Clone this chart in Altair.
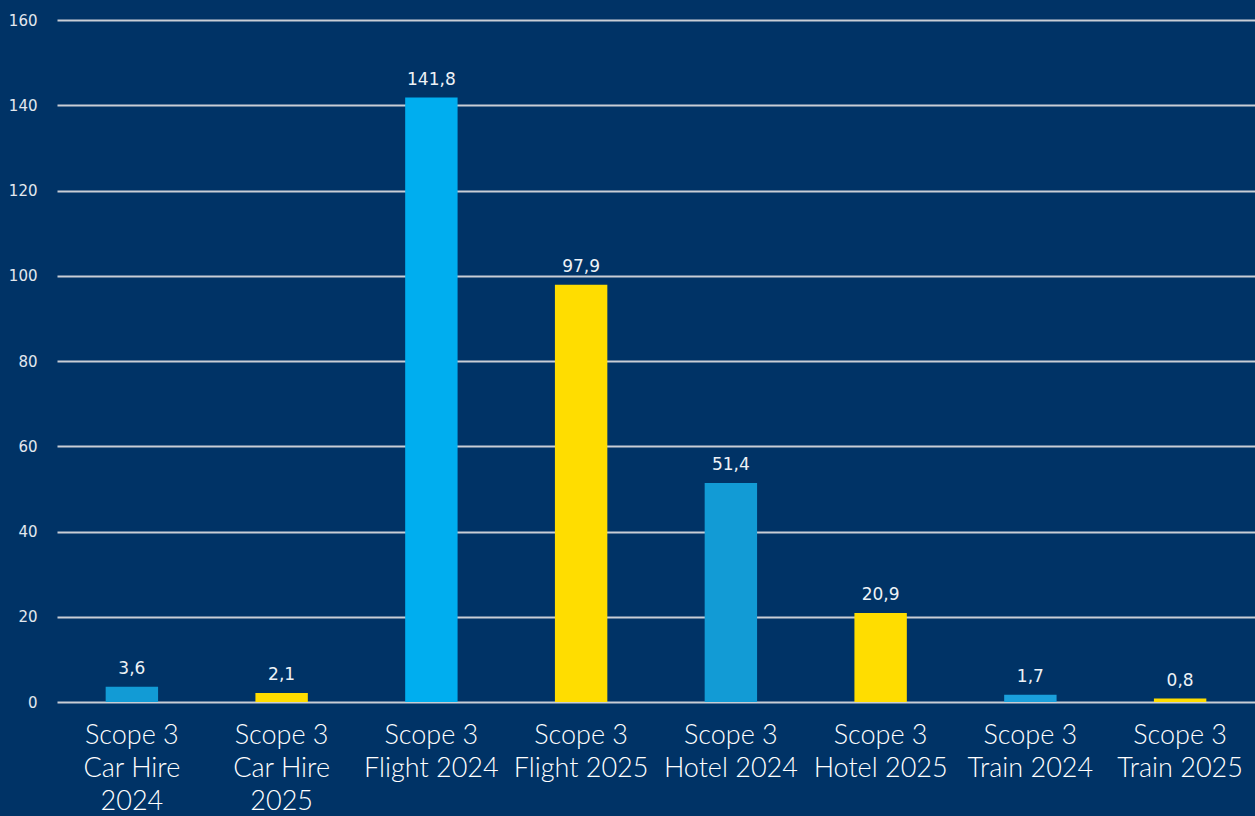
import altair as alt
import pandas as pd

categories = [
    "Scope 3\nCar Hire\n2024",
    "Scope 3\nCar Hire\n2025",
    "Scope 3\nFlight 2024",
    "Scope 3\nFlight 2025",
    "Scope 3\nHotel 2024",
    "Scope 3\nHotel 2025",
    "Scope 3\nTrain 2024",
    "Scope 3\nTrain 2025",
]
values = [3.6, 2.1, 141.8, 97.9, 51.4, 20.9, 1.7, 0.8]
bar_colors = ["#129BD5", "#FFDD00", "#00AEEF", "#FFDD00",
              "#129BD5", "#FFDD00", "#1AA0DC", "#FFDD00"]
y_ticks = [0, 20, 40, 60, 80, 100, 120, 140, 160]

df = pd.DataFrame({"cat": categories, "value": values, "color": bar_colors})
df["label"] = [f"{v:.1f}".replace(".", ",") for v in values]

BG = "#003366"
FONT = "Lato"
NUMFONT = "DejaVu Sans"

x = alt.X(
    "cat:N",
    sort=categories,
    scale=alt.Scale(paddingInner=0.65, paddingOuter=0.325),
    axis=alt.Axis(
        title=None,
        labelAngle=0,
        labelExpr="split(datum.label, '\\n')",
        labelFontSize=27,
        labelFontWeight=300,
        labelLineHeight=33,
        labelColor="#FFFFFF",
        labelFont=FONT,
        labelPadding=20,
        labelBaseline="top",
        ticks=False,
        domain=False,
    ),
)
y = alt.Y(
    "value:Q",
    scale=alt.Scale(domain=[0, 160], nice=False),
    axis=alt.Axis(
        title=None,
        values=y_ticks,
        labelFontSize=15,
        labelColor="#E3E8EE",
        labelFont=NUMFONT,
        labelPadding=20,
        ticks=False,
        domain=False,
        grid=True,
        gridColor="#C9CED5",
        gridWidth=2,
        gridOpacity=1,
    ),
)

bars = alt.Chart(df).mark_bar().encode(
    x=x, y=y, color=alt.Color("color:N", scale=None)
)
texts = alt.Chart(df).mark_text(
    baseline="alphabetic", dy=-13, fontSize=17, color="#EEF2F6", font=NUMFONT
).encode(x=alt.X("cat:N", sort=categories), y="value:Q", text="label:N")

chart = (
    alt.layer(bars, texts)
    .properties(
        width=1198,
        height=682,
        background=BG,
        padding={"left": 57, "top": 20, "right": 0, "bottom": 114},
        autosize=alt.AutoSizeParams(type="none"),
    )
    .configure_view(stroke=None, fill=BG)
)

chart.save("out.html", embed_options={"renderer": "svg", "actions": False})
